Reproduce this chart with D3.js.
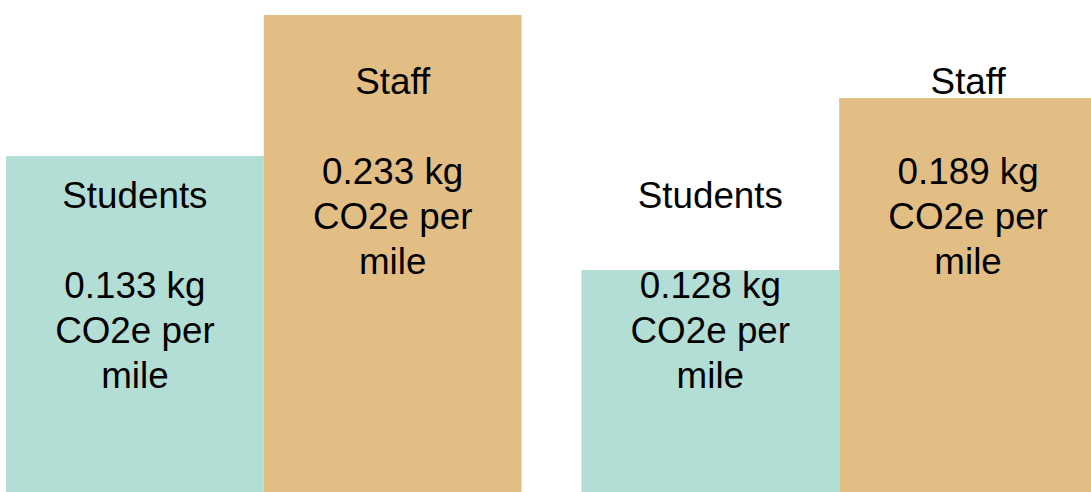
<!DOCTYPE html>
<html>
<head>
<meta charset="utf-8">
<script src="https://cdn.jsdelivr.net/npm/d3@7"></script>
<style>
  html, body { margin: 0; padding: 0; background: #fff; overflow: hidden; }
  svg { display: block; }
</style>
</head>
<body>
<div id="chart"></div>
<script>
// data
var panels = ["panel1", "panel2"];
var groups = ["Students", "Staff"];
var studentValues = [0.133, 0.128];
var staffValues = [0.233, 0.189];
var unitLines = ["CO2e per", "mile"];

var width = 1091, height = 492;
var fontSize = 36.8, lineH = 45;
var colors = { Students: "#b3ded5", Staff: "#e2be85" };
// each panel was drawn on its own value scale (floor of the axis)
var floors = { panel1: -0.1053, panel2: 0.0493 };
// first baseline of each label block
var labelTop = { Students: 207.5, Staff: 94 };

var svg = d3.select("#chart").append("svg")
    .attr("width", width).attr("height", height);

var x0 = d3.scaleBand().domain(panels).range([6, 1097]).paddingInner(0.104);
var x1 = d3.scaleBand().domain(groups).range([0, x0.bandwidth()]).padding(0);

panels.forEach(function (p, i) {
    var vals = { Students: studentValues[i], Staff: staffValues[i] };
    var top = d3.max(groups, function (g) { return vals[g]; });
    // top bar reaches a different height in each panel
    var topPx = i === 0 ? 15 : 98;
    var y = d3.scaleLinear().domain([floors[p], top]).range([height, topPx]);

    var g = svg.append("g").attr("transform", "translate(" + x0(p) + ",0)");

    g.selectAll("rect").data(groups).join("rect")
        .attr("x", function (d) { return x1(d); })
        .attr("y", function (d) { return y(vals[d]); })
        .attr("width", x1.bandwidth())
        .attr("height", function (d) { return height - y(vals[d]); })
        .attr("fill", function (d) { return colors[d]; });

    groups.forEach(function (grp) {
        var lines = [grp, "", vals[grp].toFixed(3) + " kg"].concat(unitLines);
        var cx = x1(grp) + x1.bandwidth() / 2;
        var t = g.append("text")
            .attr("text-anchor", "middle")
            .attr("font-family", "'Liberation Sans', Arial, sans-serif")
            .attr("font-size", fontSize + "px")
            .attr("fill", "#000");
        lines.forEach(function (l, k) {
            if (l === "") return;
            t.append("tspan")
                .attr("x", cx)
                .attr("y", labelTop[grp] + k * lineH)
                .text(l);
        });
    });
});
</script>
</body>
</html>
